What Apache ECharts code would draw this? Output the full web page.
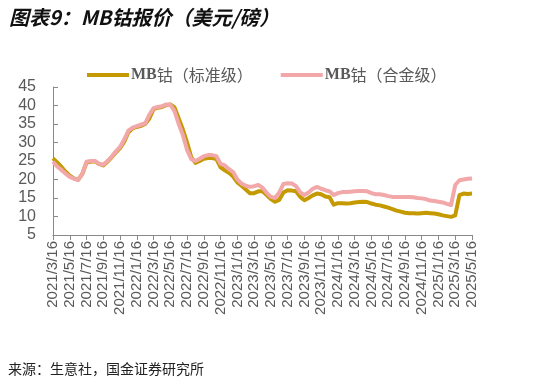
<!DOCTYPE html>
<html>
<head>
<meta charset="utf-8">
<script src="https://cdn.jsdelivr.net/npm/echarts@6/dist/echarts.min.js"></script>
<style>
html,body{margin:0;padding:0;background:#fff;}
#c{width:541px;height:385px;}
</style>
</head>
<body>
<div id="c"></div>
<script>
var categories = [
"2021/3/16","2021/4/1","2021/4/16","2021/5/1","2021/5/16","2021/6/1","2021/6/16","2021/7/1","2021/7/16","2021/8/1",
"2021/8/16","2021/9/1","2021/9/16","2021/10/1","2021/10/16","2021/11/1","2021/11/16","2021/12/1","2021/12/16","2022/1/1",
"2022/1/16","2022/2/1","2022/2/16","2022/3/1","2022/3/16","2022/4/1","2022/4/16","2022/5/1","2022/5/16","2022/6/1",
"2022/6/16","2022/7/1","2022/7/16","2022/8/1","2022/8/16","2022/9/1","2022/9/16","2022/10/1","2022/10/16","2022/11/1",
"2022/11/16","2022/12/1","2022/12/16","2023/1/1","2023/1/16","2023/2/1","2023/2/16","2023/3/1","2023/3/16","2023/4/1",
"2023/4/16","2023/5/1","2023/5/16","2023/6/1","2023/6/16","2023/7/1","2023/7/16","2023/8/1","2023/8/16","2023/9/1",
"2023/9/16","2023/10/1","2023/10/16","2023/11/1","2023/11/16","2023/12/1","2023/12/16","2024/1/1","2024/1/16","2024/2/1",
"2024/2/16","2024/3/1","2024/3/16","2024/4/1","2024/4/16","2024/5/1","2024/5/16","2024/6/1","2024/6/16","2024/7/1",
"2024/7/16","2024/8/1","2024/8/16","2024/9/1","2024/9/16","2024/10/1","2024/10/16","2024/11/1","2024/11/16","2024/12/1",
"2024/12/16","2025/1/1","2025/1/16","2025/2/1","2025/2/16","2025/3/1","2025/3/16","2025/4/1","2025/4/16","2025/5/1",
"2025/5/16"
];
var standardGrade = [
25.7,24.6,23.4,22.1,21.0,20.3,19.9,21.5,24.6,24.8,
24.9,24.2,23.8,24.8,26.0,27.3,28.5,30.2,32.8,33.8,
34.2,34.5,35.0,36.5,39.0,39.4,39.6,40.1,40.3,39.5,
36.5,33.5,30.0,26.0,24.5,25.0,25.6,25.8,25.8,25.5,
23.3,22.5,21.8,20.8,19.2,18.3,17.3,16.3,16.3,16.8,
16.8,15.8,14.7,14.0,14.5,16.5,17.1,17.0,16.8,15.3,
14.4,15.0,15.7,16.2,16.0,15.4,15.2,13.2,13.6,13.6,
13.5,13.6,13.8,13.9,14.0,13.9,13.5,13.2,13.0,12.7,
12.4,12.0,11.6,11.3,11.0,10.9,10.9,10.8,10.9,11.0,
10.9,10.8,10.6,10.3,10.1,9.9,10.3,15.8,16.2,16.1,
16.2
];
var alloyGrade = [
24.8,23.5,22.6,21.6,20.7,20.2,19.9,21.5,24.8,25.0,
25.0,24.2,24.0,25.0,26.2,27.6,28.8,30.8,33.2,34.0,
34.4,34.8,35.2,37.5,39.3,39.6,39.8,40.3,40.2,38.5,
35.0,32.0,28.0,25.5,25.0,25.6,26.3,26.6,26.6,26.3,
24.2,23.8,22.8,22.0,20.0,18.9,18.3,18.0,18.2,18.5,
17.8,16.4,15.3,15.0,16.5,18.8,19.0,18.9,18.2,16.5,
15.8,16.5,17.5,18.0,17.5,17.1,16.8,15.8,16.3,16.6,
16.6,16.7,16.8,16.9,16.9,16.8,16.3,16.0,16.0,15.8,
15.5,15.3,15.3,15.3,15.3,15.3,15.2,15.0,14.9,14.7,
14.3,14.2,14.0,13.8,13.4,13.1,18.5,19.8,20.0,20.2,
20.3
];
var seriesNames = ["MB钴（标准级）","MB钴（合金级）"];
var colors = ["#C49A00","#F2A7A9"];

var chart = echarts.init(document.getElementById('c'), null, {renderer:'canvas'});
var legendRich = {
  a:{fontFamily:'Liberation Serif',fontWeight:'bold',fontSize:16,color:'#595959'},
  b:{fontFamily:'Noto Sans CJK SC',fontSize:16,color:'#595959'}
};
chart.setOption({
  animation:false,
  backgroundColor:'#fff',
  title:{
    text:'图表9：MB钴报价（美元/磅）',
    left:4, top:2,
    textStyle:{fontFamily:'Noto Sans CJK SC',fontSize:20,fontWeight:'bold',fontStyle:'italic',color:'#111'}
  },
  legend:{
    top:62, left:82,
    itemWidth:42, itemHeight:4, itemGap:28,
    icon:'rect',
    data:seriesNames,
    formatter:function(n){ return '{a|MB}{b|' + n.slice(2) + '}'; },
    textStyle:{rich:legendRich, padding:[0,0,0,-3]}
  },
  grid:{left:53,right:69,top:87,bottom:150,containLabel:false},
  xAxis:{
    type:'category',
    data:categories,
    boundaryGap:false,
    axisLine:{lineStyle:{color:'#898989',width:1}},
    axisTick:{interval:3,length:5,lineStyle:{color:'#898989'}},
    axisLabel:{interval:3,rotate:90,margin:6,color:'#595959',fontSize:15,fontFamily:'Liberation Sans'},
    splitLine:{show:false}
  },
  yAxis:{
    type:'value',
    min:5,max:45,interval:5,
    axisLine:{show:true,lineStyle:{color:'#898989',width:1}},
    axisTick:{show:true,inside:true,length:5,lineStyle:{color:'#898989'}},
    axisLabel:{margin:17,color:'#595959',fontSize:16,fontFamily:'Liberation Sans'},
    splitLine:{show:false}
  },
  series:[
    {name:seriesNames[0],type:'line',data:standardGrade,symbol:'none',color:colors[0],
     lineStyle:{width:4,color:colors[0],join:'round'}},
    {name:seriesNames[1],type:'line',data:alloyGrade,symbol:'none',color:colors[1],
     lineStyle:{width:4,color:colors[1],join:'round'}}
  ],
  graphic:[
    {type:'text',left:8,top:362,style:{text:'来源：生意社，国金证券研究所',fontFamily:'Noto Sans CJK SC',fontSize:14,fill:'#222'}}
  ]
});
</script>
</body>
</html>
